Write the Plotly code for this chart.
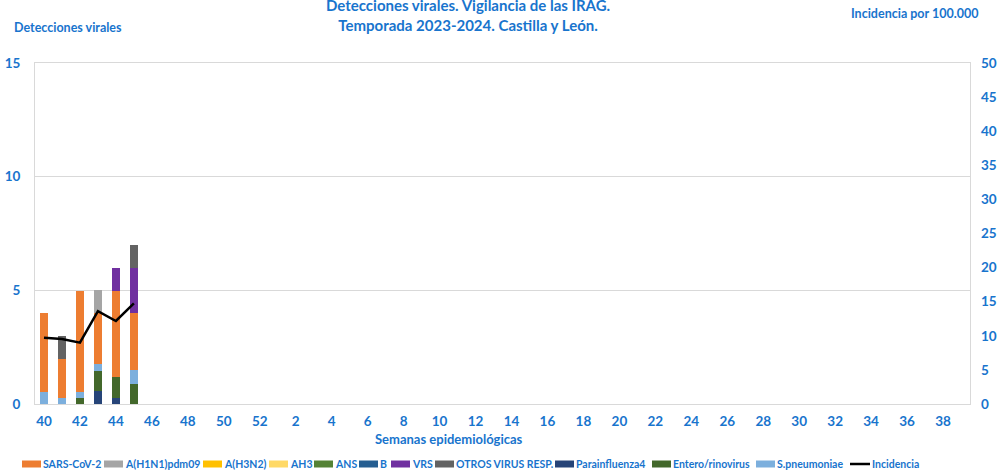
import plotly.graph_objects as go

weeks = [str(w) for w in list(range(40, 53)) + list(range(1, 40))]
tick_labels = [w for i, w in enumerate(weeks) if i % 2 == 0]

data_weeks = ["40", "41", "42", "43", "44", "45"]
sars = [3.45, 1.74, 4.45, 2.24, 3.82, 2.51]
h1n1 = [0, 0, 0, 1.0, 0, 0]
h3n2 = [0, 0, 0, 0, 0, 0]
ah3 = [0, 0, 0, 0, 0, 0]
ans = [0, 0, 0, 0, 0, 0]
b_vir = [0, 0, 0, 0, 0, 0]
vrs = [0, 0, 0, 0, 1.0, 2.0]
otros = [0, 1.0, 0, 0, 0, 1.0]
parainf4 = [0, 0, 0, 0.56, 0.26, 0]
entero = [0, 0, 0.27, 0.91, 0.91, 0.87]
spneumo = [0.55, 0.26, 0.27, 0.29, 0, 0.62]
incidencia = [9.72, 9.53, 8.99, 13.6, 12.17, 14.76]

BLUE = "#1874CD"
FONT = "Lato"

W, H = 998, 471
# plot area in screen pixels
SL, SR, ST, SB = 35, 970, 63, 404
L, T, R, B = SL, ST, W - SR, H - SB
pw, ph = SR - SL, SB - ST
def px(sx): return (sx - SL) / pw
def py(sy): return (SB - sy) / ph

# series: name, values, colour; listed bottom -> top of the stack
series = [
    ("Parainfluenza4", parainf4, "#264478"),
    ("Entero/rinovirus", entero, "#43682B"),
    ("S.pneumoniae", spneumo, "#7CAFDD"),
    ("SARS-CoV-2", sars, "#ED7D31"),
    ("A(H1N1)pdm09", h1n1, "#A5A5A5"),
    ("A(H3N2)", h3n2, "#FFC000"),
    ("AH3", ah3, "#FFD966"),
    ("ANS", ans, "#548235"),
    ("B", b_vir, "#255E91"),
    ("VRS", vrs, "#7030A0"),
    ("OTROS VIRUS RESP.", otros, "#636363"),
]
colors = {n: c for n, _, c in series}

fig = go.Figure()
for name, vals, color in series:
    fig.add_trace(go.Bar(
        x=data_weeks, y=vals, name=name, marker_color=color,
        marker_line_width=0, yaxis="y", showlegend=False,
    ))

fig.add_trace(go.Scatter(
    x=data_weeks, y=incidencia, name="Incidencia", mode="lines",
    line=dict(color="black", width=2.5), yaxis="y2", showlegend=False,
))

# custom one-row legend (reference layout)
legend_order = ["SARS-CoV-2", "A(H1N1)pdm09", "A(H3N2)", "AH3", "ANS", "B", "VRS",
                "OTROS VIRUS RESP.", "Parainfluenza4", "Entero/rinovirus", "S.pneumoniae"]
legend_x = [22, 104, 203, 269, 314, 359, 391, 435, 555, 652, 756]
LEG_Y = 464
shapes = []
annotations = []
leg_font = dict(size=10.5, color=BLUE, weight="bold", family=FONT)
for name, x0 in zip(legend_order, legend_x):
    shapes.append(dict(type="rect", xref="paper", yref="paper",
                       x0=px(x0), x1=px(x0 + 19), y0=py(LEG_Y + 3.5), y1=py(LEG_Y - 3.5),
                       fillcolor=colors[name], line=dict(width=0)))
    annotations.append(dict(text=name, x=px(x0 + 19), y=py(LEG_Y), xref="paper", yref="paper",
                            xanchor="left", yanchor="middle", showarrow=False, font=leg_font))
shapes.append(dict(type="line", xref="paper", yref="paper",
                   x0=px(850), x1=px(870), y0=py(LEG_Y), y1=py(LEG_Y),
                   line=dict(color="black", width=2.5)))
annotations.append(dict(text="Incidencia", x=px(870), y=py(LEG_Y), xref="paper", yref="paper",
                        xanchor="left", yanchor="middle", showarrow=False, font=leg_font))

ann_font = dict(size=12.5, color=BLUE, weight="bold")
annotations += [
    dict(text="Detecciones virales. Vigilancia de las IRAG.<br>Temporada 2023-2024. Castilla y León.",
         x=px(468), y=py(15), xref="paper", yref="paper", xanchor="center", yanchor="middle",
         showarrow=False, font=dict(size=15, color=BLUE, weight="bold")),
    dict(text="Detecciones virales", x=px(12), y=py(27), xref="paper", yref="paper",
         xanchor="left", yanchor="middle", showarrow=False, font=ann_font),
    dict(text="Incidencia por 100.000", x=px(980), y=py(14), xref="paper", yref="paper",
         xanchor="right", yanchor="middle", showarrow=False, font=ann_font),
    dict(text="Semanas epidemiológicas", x=px(449), y=py(439), xref="paper", yref="paper",
         xanchor="center", yanchor="middle", showarrow=False,
         font=dict(size=13, color=BLUE, weight="bold")),
]

fig.update_layout(
    width=W, height=H,
    margin=dict(l=L, r=R, t=T, b=B, autoexpand=False),
    barmode="stack", bargap=0.59,
    plot_bgcolor="white", paper_bgcolor="white",
    font=dict(family=FONT, color=BLUE, size=12, weight="bold"),
    showlegend=False,
    xaxis=dict(type="category", categoryorder="array", categoryarray=weeks,
               range=[-0.5, len(weeks) - 0.5],
               tickmode="array", tickvals=tick_labels, ticktext=tick_labels,
               tickfont=dict(size=13.5, color=BLUE, weight="bold"),
               showgrid=False, showline=True, linecolor="#D9D9D9", linewidth=1,
               mirror=True, ticks="", ticklabelstandoff=5),
    yaxis=dict(range=[0, 15], tickvals=[0, 5, 10, 15],
               tickfont=dict(size=13.5, color=BLUE, weight="bold"),
               showgrid=True, gridcolor="#D9D9D9", gridwidth=1,
               showline=True, linecolor="#D9D9D9", mirror=True, zeroline=False,
               ticks="", ticklabelstandoff=11),
    yaxis2=dict(range=[0, 50], dtick=5, overlaying="y", side="right",
                tickfont=dict(size=13.5, color=BLUE, weight="bold"),
                showgrid=False, zeroline=False, showline=False, ticks="",
                ticklabelstandoff=10),
    shapes=shapes,
    annotations=annotations,
)

fig.write_html("out.html", config={"displayModeBar": False},
               post_script="document.body.style.margin='0';document.body.style.overflow='hidden';")
